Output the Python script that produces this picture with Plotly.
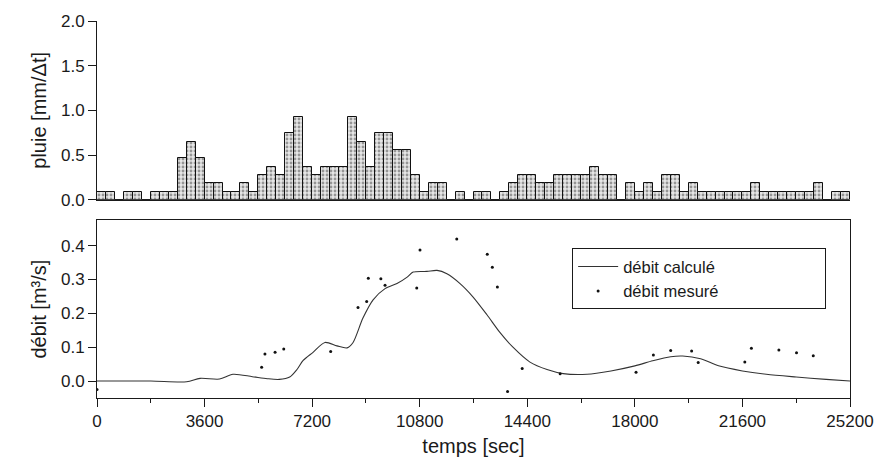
import plotly.graph_objects as go

# ---------------- data ----------------
# rainfall per 300 s time step (mm/Δt), 84 steps from 0 to 25200 s
rain_step = 300
rain = [0.09, 0.09, 0.0, 0.09, 0.09, 0.0, 0.09, 0.09, 0.09, 0.47,
        0.65, 0.47, 0.19, 0.19, 0.09, 0.09, 0.19, 0.09, 0.28, 0.37,
        0.28, 0.75, 0.93, 0.37, 0.28, 0.37, 0.37, 0.37, 0.93, 0.65,
        0.37, 0.75, 0.75, 0.56, 0.56, 0.28, 0.09, 0.19, 0.19, 0.0,
        0.09, 0.0, 0.09, 0.09, 0.0, 0.09, 0.19, 0.28, 0.28, 0.19,
        0.19, 0.28, 0.28, 0.28, 0.28, 0.37, 0.28, 0.28, 0.0, 0.19,
        0.09, 0.19, 0.09, 0.28, 0.28, 0.09, 0.19, 0.09, 0.09, 0.09,
        0.09, 0.09, 0.09, 0.19, 0.09, 0.09, 0.09, 0.09, 0.09, 0.09,
        0.19, 0.0, 0.09, 0.09]
rain_t = [rain_step * i + rain_step / 2 for i in range(len(rain))]

# computed discharge (m3/s)
calc_t = [0, 1800, 3000, 3450, 4100, 4550, 5200, 5700, 6100, 6450, 6700, 6900,
          7230, 7630, 8030, 8370, 8570, 8900, 9240, 9640, 10040, 10380, 10580,
          11040, 11380, 11710, 12150, 12580, 13050, 13490, 13920, 14490, 15060,
          15600, 16400, 17200, 18000, 18600, 19200, 19600, 20200, 20800, 21600,
          22400, 23400, 24400, 25200]
calc_q = [0.0, 0.0, -0.002, 0.008, 0.006, 0.02, 0.013, 0.007, 0.005, 0.012, 0.035, 0.061,
          0.085, 0.114, 0.104, 0.098, 0.114, 0.186, 0.24, 0.273, 0.288, 0.307, 0.322,
          0.324, 0.327, 0.317, 0.288, 0.249, 0.196, 0.143, 0.10, 0.056, 0.034,
          0.022, 0.02, 0.03, 0.045, 0.06, 0.072, 0.074, 0.066, 0.045, 0.03,
          0.02, 0.012, 0.005, 0.0]

# measured discharge (m3/s)
meas_t = [0, 5510, 5620, 5960, 6250, 7820, 8735, 9025, 9080, 9500, 9640, 10700,
          10810, 12040, 13060, 13230, 13400, 13740, 14230, 15500, 18040, 18620,
          19200, 19900, 20120, 21680, 21900, 22820, 23410, 23970]
meas_q = [-0.025, 0.041, 0.08, 0.085, 0.095, 0.087, 0.217, 0.235, 0.304, 0.302, 0.283, 0.275,
          0.387, 0.42, 0.375, 0.336, 0.278, -0.031, 0.037, 0.022, 0.026, 0.077,
          0.09, 0.089, 0.055, 0.056, 0.097, 0.092, 0.084, 0.075]

x_ticks = [0, 3600, 7200, 10800, 14400, 18000, 21600, 25200]
x_tick_labels = ["0", "3600", "7200", "10800", "14400", "18000", "21600", "25200"]
rain_ticks = [0.0, 0.5, 1.0, 1.5, 2.0]
q_ticks = [0.0, 0.1, 0.2, 0.3, 0.4]

FONT = "Liberation Sans, Arial, sans-serif"
INK = "#1a1a1a"
PAD = "\u00a0" * 22  # widen legend box like the original

fig = go.Figure()

fig.add_trace(go.Bar(
    x=rain_t, y=rain, width=rain_step, xaxis="x", yaxis="y",
    marker=dict(color="#e4e4e4", line=dict(color="#111", width=1),
                pattern=dict(shape=".", fgcolor="#444", bgcolor="#e6e6e6",
                             size=4, solidity=0.4)),
    showlegend=False, hoverinfo="skip"))

fig.add_trace(go.Scatter(
    x=calc_t, y=calc_q, xaxis="x2", yaxis="y2", mode="lines",
    line=dict(color="#333", width=1.1, shape="spline", smoothing=0.8),
    name="débit calculé" + PAD))

fig.add_trace(go.Scatter(
    x=meas_t, y=meas_q, xaxis="x2", yaxis="y2", mode="markers",
    marker=dict(color="#111", size=3),
    name="débit mesuré" + PAD))

fig.update_layout(
    width=890, height=474,
    margin=dict(l=97, r=40, t=14, b=76),
    paper_bgcolor="white", plot_bgcolor="white",
    font=dict(family=FONT, color=INK, size=17),
    bargap=0,
    xaxis=dict(domain=[0, 1], range=[0, 25200], anchor="y",
               showline=True, linecolor=INK, linewidth=1,
               showticklabels=False, ticks="", showgrid=False, zeroline=False),
    yaxis=dict(domain=[0.526, 1], range=[0, 2.0], anchor="x",
               tickvals=rain_ticks, tickformat=".1f",
               ticks="outside", ticklen=8, tickcolor=INK,
               showline=True, linecolor=INK, linewidth=1,
               showgrid=False, zeroline=False,
               title=dict(text="pluie [mm/Δt]", font=dict(size=20), standoff=8)),
    xaxis2=dict(domain=[0, 1], range=[0, 25200], anchor="y2",
                tickvals=x_ticks, ticktext=x_tick_labels,
                ticks="outside", ticklen=8, tickcolor=INK,
                minor=dict(dtick=1800, tick0=0, ticks="outside", ticklen=4, tickcolor=INK),
                showline=True, linecolor=INK, linewidth=1, mirror=True,
                showgrid=False, zeroline=False,
                title=dict(text="temps [sec]", font=dict(size=20), standoff=8)),
    yaxis2=dict(domain=[0, 0.4714], range=[-0.05, 0.475], anchor="x2",
                tickvals=q_ticks, tickformat=".1f",
                ticks="outside", ticklen=8, tickcolor=INK,
                showline=True, linecolor=INK, linewidth=1, mirror=True,
                showgrid=False, zeroline=False,
                title=dict(text="débit [m³/s]", font=dict(size=20), standoff=8)),
    legend=dict(x=0.631, y=0.397, xanchor="left", yanchor="top",
                bordercolor=INK, borderwidth=1, bgcolor="white",
                font=dict(size=16.5, color=INK), itemwidth=40,
                tracegroupgap=0),
)

fig.write_html("out.html")
